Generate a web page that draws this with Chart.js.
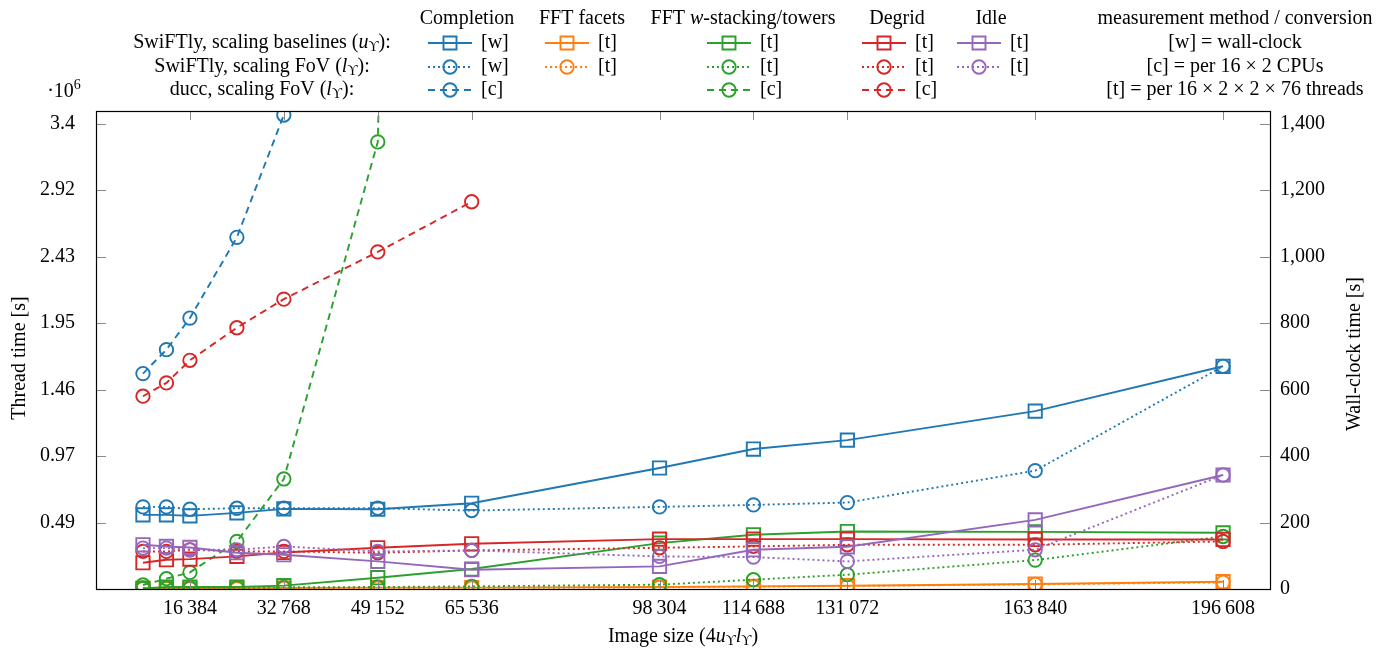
<!DOCTYPE html>
<html>
<head>
<meta charset="utf-8">
<script src="https://cdn.jsdelivr.net/npm/chart.js@4/dist/chart.umd.min.js"></script>
<style>
  html, body { margin: 0; padding: 0; background: #fff; }
  #wrap { width: 1397px; height: 650px; }
</style>
</head>
<body>
<div id="wrap"><canvas id="chart" width="1397" height="650"></canvas></div>
<script>
// image sizes (4 u l) measured
const imageSizes = [8192, 12288, 16384, 24576, 32768, 49152, 65536, 98304, 114688, 131072, 163840, 196608];
const xTickValues = [16384, 32768, 49152, 65536, 98304, 114688, 131072, 163840, 196608];
const wallTickValues = [0, 200, 400, 600, 800, 1000, 1200, 1400];
const threadTickValues = [200, 400, 600, 800, 1000, 1200, 1400];

// values in wall-clock seconds (same scale as right axis)
const completionBaselines = [223, 223, 220, 229, 241, 240, 258, 364, 421, 448, 535, 670];
const completionFov       = [247, 247, 240, 243, 243, 243, 236, 247, 253, 260, 356, 670];
const facetsBaselines     = [2, 2, 2, 2, 3, 4, 4, 6, 8, 10, 15, 22];
const facetsFov           = [1, 1, 1, 1, 2, 3, 3, 5, 7, 9, 14, 20];
const wstackBaselines     = [2, 6, 6, 6, 10, 34, 60, 138, 163, 173, 172, 169];
const wstackFov           = [3, 3, 3, 4, 5, 6, 8, 13, 28, 43, 87, 158];
const degridBaselines     = [79, 88, 90, 98, 110, 124, 136, 150, 150, 150, 149, 149];
const degridFov           = [113, 113, 118, 113, 113, 109, 116, 124, 128, 133, 133, 143];
const idleBaselines       = [133, 128, 125, 109, 103, 83, 58, 68, 118, 127, 208, 343];
const idleFov             = [123, 123, 118, 118, 128, 113, 116, 98, 96, 83, 118, 343];
const duccCompletion      = [648, 720, 815, 1058, 1426];
const duccWstack          = [12, 31, 50, 143, 331, 1345, 13000];
const duccDegrid          = [580, 620, 688, 786, 872, 1014, 1165];

const THREADS = 16 * 2 * 76;   // left axis = wall-clock * threads
const WALL_MAX = 1438;

const C = { blue: '#1f77b4', orange: '#ff7f0e', green: '#2ca02c', red: '#d62728', purple: '#9467bd' };
const DOT = [2, 3];
const DASH = [7, 5];
const LW = 1.9;
const FONT = "'Liberation Serif', 'DejaVu Serif', serif";

function pts(values) {
  return values.map(function (v, i) { return { x: imageSizes[i], y: v }; });
}

function series(values, color, kind) {
  const square = kind === 'base';
  return {
    data: pts(values),
    borderColor: color,
    backgroundColor: 'rgba(0,0,0,0)',
    borderWidth: LW,
    borderDash: kind === 'fov' ? DOT : (kind === 'ducc' ? DASH : []),
    pointStyle: square ? 'rect' : 'circle',
    pointRadius: square ? 9.4 : 6.7,
    pointBorderWidth: LW,
    pointBorderColor: color,
    pointBackgroundColor: 'rgba(0,0,0,0)',
    tension: 0,
    yAxisID: 'yW'
  };
}

const datasets = [
  series(completionBaselines, C.blue, 'base'),
  series(completionFov, C.blue, 'fov'),
  series(duccCompletion, C.blue, 'ducc'),
  series(facetsBaselines, C.orange, 'base'),
  series(facetsFov, C.orange, 'fov'),
  series(wstackBaselines, C.green, 'base'),
  series(wstackFov, C.green, 'fov'),
  series(duccWstack, C.green, 'ducc'),
  series(degridBaselines, C.red, 'base'),
  series(degridFov, C.red, 'fov'),
  series(duccDegrid, C.red, 'ducc'),
  series(idleBaselines, C.purple, 'base'),
  series(idleFov, C.purple, 'fov')
];
// later datasets on top, like the original
datasets.forEach(function (d, i) { d.order = -i; });

function fmtThousands(v, sep) {
  return String(v).replace(/\B(?=(\d{3})+(?!\d))/g, sep);
}

// draw a run of text pieces: [text, style] with style n / i / sub / sup
function drawRich(ctx, parts, x, y, align, size) {
  size = size || 20;
  function fontFor(st) {
    const s = (st === 'sub' || st === 'sup') ? Math.round(size * 0.7) : size;
    return (st === 'i' ? 'italic ' : '') + s + 'px ' + FONT;
  }
  let total = 0;
  parts.forEach(function (p) { ctx.font = fontFor(p[1]); total += ctx.measureText(p[0]).width; });
  let cx = align === 'center' ? x - total / 2 : (align === 'right' ? x - total : x);
  ctx.textAlign = 'left';
  ctx.textBaseline = 'middle';
  parts.forEach(function (p) {
    ctx.font = fontFor(p[1]);
    let dy = 0;
    if (p[1] === 'sub') dy = size * 0.22;
    if (p[1] === 'sup') dy = -size * 0.35;
    ctx.fillText(p[0], cx, y + dy);
    cx += ctx.measureText(p[0]).width;
  });
}

function drawSample(ctx, cx, cy, color, kind) {
  ctx.save();
  ctx.strokeStyle = color;
  ctx.lineWidth = LW;
  ctx.setLineDash(kind === 'fov' ? DOT : (kind === 'ducc' ? DASH : []));
  ctx.beginPath();
  ctx.moveTo(cx - 22, cy);
  ctx.lineTo(cx + 22, cy);
  ctx.stroke();
  ctx.setLineDash([]);
  ctx.beginPath();
  if (kind === 'base') ctx.rect(cx - 6.5, cy - 6.5, 13, 13);
  else ctx.arc(cx, cy, 6.7, 0, Math.PI * 2);
  ctx.stroke();
  ctx.restore();
}

const decorPlugin = {
  id: 'decor',
  afterDraw: function (chart) {
    const ctx = chart.ctx;
    const a = chart.chartArea;
    const xs = chart.scales.x, yw = chart.scales.yW;
    ctx.save();
    // inward ticks
    ctx.strokeStyle = '#8a8a8a';
    ctx.lineWidth = 1;
    ctx.beginPath();
    xTickValues.forEach(function (v) {
      const px = Math.round(xs.getPixelForValue(v)) + 0.5;
      ctx.moveTo(px, a.top); ctx.lineTo(px, a.top + 9);
      ctx.moveTo(px, a.bottom); ctx.lineTo(px, a.bottom - 9);
    });
    wallTickValues.forEach(function (v) {
      const py = Math.round(yw.getPixelForValue(v)) + 0.5;
      ctx.moveTo(a.right, py); ctx.lineTo(a.right - 10, py);
      if (v > 0) { ctx.moveTo(a.left, py); ctx.lineTo(a.left + 10, py); }
    });
    ctx.stroke();
    // frame
    ctx.strokeStyle = '#000';
    ctx.lineWidth = 1.2;
    ctx.strokeRect(Math.round(a.left) + 0.5, Math.round(a.top) + 0.5, Math.round(a.right - a.left), Math.round(a.bottom - a.top));

    ctx.fillStyle = '#000';
    // axis titles
    drawRich(ctx, [['Image size (4', 'n'], ['u', 'i'], ['\u03D2', 'sub'], ['l', 'i'], ['\u03D2', 'sub'], [')', 'n']], (a.left + a.right) / 2, 637, 'center');
    ctx.save();
    ctx.translate(20, (a.top + a.bottom) / 2 + 8);
    ctx.rotate(-Math.PI / 2);
    drawRich(ctx, [['Thread time [s]', 'n']], 0, 0, 'center');
    ctx.restore();
    ctx.save();
    ctx.translate(1355, (a.top + a.bottom) / 2 + 4);
    ctx.rotate(-Math.PI / 2);
    drawRich(ctx, [['Wall-clock time [s]', 'n']], 0, 0, 'center');
    ctx.restore();
    drawRich(ctx, [['\u00B710', 'n'], ['6', 'sup']], 64, 92, 'center');

    // legend matrix
    const hy = 19, rows = [43, 67, 90];
    drawRich(ctx, [['Completion', 'n']], 467, hy, 'center');
    drawRich(ctx, [['FFT facets', 'n']], 582, hy, 'center');
    drawRich(ctx, [['FFT ', 'n'], ['w', 'i'], ['-stacking/towers', 'n']], 743, hy, 'center');
    drawRich(ctx, [['Degrid', 'n']], 897, hy, 'center');
    drawRich(ctx, [['Idle', 'n']], 991, hy, 'center');
    drawRich(ctx, [['measurement method / conversion', 'n']], 1235, hy, 'center');

    drawRich(ctx, [['SwiFTly, scaling baselines (', 'n'], ['u', 'i'], ['\u03D2', 'sub'], ['):', 'n']], 262, rows[0], 'center');
    drawRich(ctx, [['SwiFTly, scaling FoV (', 'n'], ['l', 'i'], ['\u03D2', 'sub'], ['):', 'n']], 262, rows[1], 'center');
    drawRich(ctx, [['ducc, scaling FoV (', 'n'], ['l', 'i'], ['\u03D2', 'sub'], ['):', 'n']], 262, rows[2], 'center');

    const cols = [
      { x: 450, color: C.blue, tags: ['[w]', '[w]', '[c]'] },
      { x: 567, color: C.orange, tags: ['[t]', '[t]', null] },
      { x: 729, color: C.green, tags: ['[t]', '[t]', '[c]'] },
      { x: 884, color: C.red, tags: ['[t]', '[t]', '[c]'] },
      { x: 979, color: C.purple, tags: ['[t]', '[t]', null] }
    ];
    const kinds = ['base', 'fov', 'ducc'];
    cols.forEach(function (c) {
      c.tags.forEach(function (t, r) {
        if (!t) return;
        drawSample(ctx, c.x, rows[r], c.color, kinds[r]);
        ctx.fillStyle = '#000';
        drawRich(ctx, [[t, 'n']], c.x + 31, rows[r], 'left');
      });
    });
    drawRich(ctx, [['[w] = wall-clock', 'n']], 1235, rows[0], 'center');
    drawRich(ctx, [['[c] = per 16 \u00D7 2 CPUs', 'n']], 1235, rows[1], 'center');
    drawRich(ctx, [['[t] = per 16 \u00D7 2 \u00D7 2 \u00D7 76 threads', 'n']], 1235, rows[2], 'center');
    ctx.restore();
  }
};

new Chart(document.getElementById('chart'), {
  type: 'line',
  data: { datasets: datasets },
  options: {
    responsive: false,
    animation: false,
    devicePixelRatio: 1,
    layout: { padding: { top: 111, left: 0, right: 0, bottom: 0 } },
    plugins: { legend: { display: false }, tooltip: { enabled: false }, title: { display: false } },
    scales: {
      x: {
        type: 'linear',
        min: 0,
        max: 204800,
        grid: { display: false },
        border: { display: false },
        afterBuildTicks: function (s) { s.ticks = xTickValues.map(function (v) { return { value: v }; }); },
        afterFit: function (s) { s.height = 61; },
        ticks: {
          autoSkip: false, maxRotation: 0, padding: 0, color: '#000',
          font: { family: FONT, size: 20 },
          callback: function (v) { return fmtThousands(v, '\u2009'); }
        }
      },
      yT: {
        type: 'linear',
        position: 'left',
        min: 0,
        max: WALL_MAX * THREADS,
        grid: { display: false },
        border: { display: false },
        afterBuildTicks: function (s) { s.ticks = threadTickValues.map(function (v) { return { value: v * THREADS }; }); },
        afterFit: function (s) { s.width = 96; },
        ticks: {
          padding: 13, color: '#000',
          font: { family: FONT, size: 20 },
          callback: function (v) { return String(parseFloat((v / 1e6).toFixed(2))); }
        }
      },
      yW: {
        type: 'linear',
        position: 'right',
        min: 0,
        max: WALL_MAX,
        grid: { display: false },
        border: { display: false },
        afterBuildTicks: function (s) { s.ticks = wallTickValues.map(function (v) { return { value: v }; }); },
        afterFit: function (s) { s.width = 127; },
        ticks: {
          padding: 2, color: '#000',
          font: { family: FONT, size: 20 },
          callback: function (v) { return fmtThousands(v, ','); }
        }
      }
    }
  },
  plugins: [decorPlugin]
});
</script>
</body>
</html>
